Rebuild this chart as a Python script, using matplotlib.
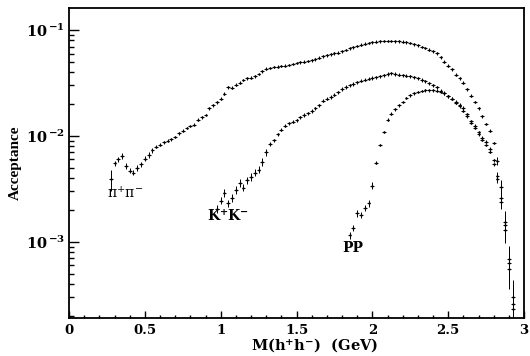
import numpy as np
import matplotlib.pyplot as plt
from matplotlib.ticker import FixedLocator, FuncFormatter, LogLocator

plt.rcParams['mathtext.fontset'] = 'dejavuserif'

# bin centres (GeV) and acceptances, acceptance in units of 1e-3
bin_w = 0.025

pipi_m = np.arange(0.275, 2.9251, bin_w)
pipi_acc = [
    3.9, 5.5, 6.0, 6.5, 5.2, 4.7, 4.5, 5.0, 5.4, 6.1,
    6.6, 7.3, 7.9, 8.3, 8.7, 9.0, 9.3, 9.8, 10.6, 11.2,
    11.9, 12.4, 12.8, 14.2, 15.0, 15.8, 18.3, 19.5, 20.8, 22.5,
    25.0, 28.8, 28.6, 30.5, 32.0, 33.8, 35.0, 35.6, 36.5, 38.5,
    41.0, 43.2, 44.0, 44.8, 45.2, 45.8, 46.3, 46.8, 47.8, 49.0,
    49.8, 50.5, 51.2, 51.8, 53.0, 54.8, 56.5, 57.8, 59.0, 60.2,
    61.5, 63.0, 65.0, 67.2, 69.0, 71.0, 72.8, 74.5, 75.8, 77.0,
    78.0, 78.8, 79.0, 79.2, 79.0, 78.8, 78.5, 77.8, 77.0, 75.5,
    73.5, 71.8, 69.5, 68.0, 65.5, 63.0, 60.5, 55.5, 50.5, 46.0,
    42.5, 38.0, 35.0, 32.0, 27.5, 24.0, 21.0, 18.3, 15.3, 13.0,
    11.2, 8.6, 5.8, 3.3, 1.55, 0.68, 0.26,
]

kk_m = np.arange(0.975, 2.9251, bin_w)
kk_acc = [
    2.05, 2.45, 2.9, 2.3, 2.6, 3.1, 3.6, 3.25, 3.8, 4.1,
    4.5, 4.8, 5.7, 7.0, 8.4, 9.1, 10.4, 11.5, 12.5, 13.2,
    13.6, 14.0, 15.0, 15.8, 16.4, 17.2, 18.2, 19.5, 21.5, 22.5,
    23.4, 24.5, 25.8, 27.8, 29.0, 30.0, 31.0, 32.2, 33.2, 34.0,
    34.8, 35.4, 35.9, 36.5, 37.4, 38.5, 39.0, 38.5, 38.0, 37.5,
    37.0, 36.5, 35.8, 35.0, 33.8, 32.8, 31.6, 30.2, 28.8, 26.8,
    25.5, 23.8, 22.5, 21.0, 19.8, 18.4, 16.0, 13.8, 12.5, 10.8,
    9.6, 8.8, 7.6, 5.9, 4.2, 2.6, 1.45, 0.63, 0.30,
]

pp_m = np.arange(1.85, 2.9251, bin_w)
pp_acc = [
    1.15, 1.35, 1.85, 1.80, 2.1, 2.3, 3.4, 5.6, 8.2, 10.9,
    14.2, 16.2, 17.8, 19.5, 21.0, 22.8, 24.3, 25.4, 26.1, 26.6,
    26.9, 27.0, 27.0, 26.8, 26.3, 25.3, 23.8, 22.5, 20.6, 19.0,
    17.4, 15.3, 13.4, 12.0, 10.4, 9.2, 8.2, 7.1, 5.4, 3.9,
    2.4, 1.3, 0.55, 0.23,
]

# relative errors: small on the plateau, large at threshold and in the tail
pipi_rel = np.full(len(pipi_acc), 0.03)
pipi_rel[0] = 0.22
pipi_rel[1:12] = 0.06
pipi_rel[-5:] = [0.08, 0.15, 0.25, 0.35, 0.45]

kk_rel = np.full(len(kk_acc), 0.035)
kk_rel[:14] = 0.08
kk_rel[-5:] = [0.08, 0.15, 0.25, 0.35, 0.45]

pp_rel = np.full(len(pp_acc), 0.03)
pp_rel[:7] = 0.07
pp_rel[-5:] = [0.08, 0.15, 0.25, 0.35, 0.45]

series = [
    (pipi_m, pipi_acc, pipi_rel),
    (kk_m, kk_acc, kk_rel),
    (pp_m, pp_acc, pp_rel),
]

fig = plt.figure(figsize=(5.3, 3.56), dpi=100)
ax = fig.add_axes([0.1302, 0.1067, 0.8585, 0.8708])

for m, acc, rel in series:
    acc = np.array(acc) * 1e-3
    ax.errorbar(m, acc, xerr=bin_w / 2, yerr=acc * rel, fmt='o',
                ms=0.7, color='black', elinewidth=0.7, capsize=0)

ax.set_xlim(0, 3)
ax.set_yscale('log')
ax.set_ylim(1.9e-4, 0.162)

ax.xaxis.set_major_locator(FixedLocator([0, 0.5, 1, 1.5, 2, 2.5, 3]))
ax.xaxis.set_minor_locator(FixedLocator(np.arange(0, 3.01, 0.1)))
ax.xaxis.set_major_formatter(FuncFormatter(lambda v, p: '%g' % v))
ax.yaxis.set_major_locator(FixedLocator([1e-3, 1e-2, 1e-1]))
ax.yaxis.set_minor_locator(LogLocator(base=10, subs=np.arange(2, 10)))
ax.yaxis.set_minor_formatter(FuncFormatter(lambda v, p: ''))
ax.yaxis.set_major_formatter(FuncFormatter(
    lambda v, p: r'$\mathbf{10}^{\,\mathbf{%d}}$' % round(np.log10(v))))

ax.tick_params(which='both', direction='in', top=False, right=False)
ax.tick_params(axis='x', which='major', length=5, width=1, pad=4)
ax.tick_params(axis='x', which='minor', length=2.5, width=1)
ax.tick_params(axis='y', which='major', length=7, width=1, pad=3)
ax.tick_params(axis='y', which='minor', length=3.5, width=1)
for lab in ax.get_xticklabels():
    lab.set_fontfamily('DejaVu Serif')
    lab.set_fontweight('bold')
    lab.set_fontsize(9.5)
for lab in ax.get_yticklabels():
    lab.set_fontsize(10.5)

for sp in ax.spines.values():
    sp.set_linewidth(1.3)

ax.set_ylabel('Acceptance', fontfamily='Liberation Serif',
              fontweight='bold', fontsize=11, labelpad=3)
ax.set_xlabel(r'M(h$^{\mathbf{+}}$h$^{\mathbf{-}}$)  (GeV)',
              fontfamily='DejaVu Serif', fontweight='bold', fontsize=10.5,
              labelpad=0, x=0.54)

ax.text(0.25, 2.9e-3, r'π$^{+}$π$^{-}$', fontfamily='DejaVu Serif',
        fontsize=10, ha='left', va='center')
ax.text(0.91, 1.76e-3, r'K$^{\mathbf{+}}$K$^{\mathbf{-}}$',
        fontfamily='DejaVu Serif', fontweight='bold', fontsize=10,
        ha='left', va='center')
ax.text(1.80, 8.8e-4, 'PP', fontfamily='DejaVu Serif', fontweight='bold',
        fontsize=10, ha='left', va='center')

fig.savefig('out.png', dpi=100)
